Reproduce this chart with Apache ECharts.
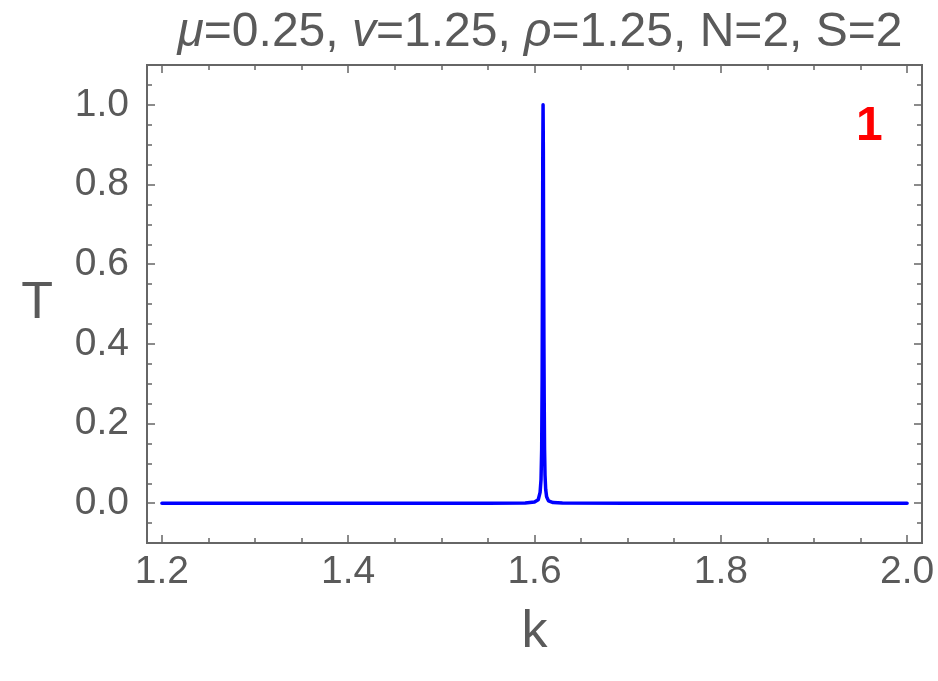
<!DOCTYPE html>
<html>
<head>
<meta charset="utf-8">
<script src="https://cdn.jsdelivr.net/npm/echarts@6/dist/echarts.min.js"></script>
<style>html,body{margin:0;padding:0;background:#fff}#c{width:938px;height:681px}</style>
</head>
<body>
<div id="c"></div>
<script>
// ---- data ----
var kValues = [1.2, 1.4, 1.55, 1.59, 1.6, 1.604, 1.606, 1.607, 1.6077, 1.6082, 1.6086, 1.6089, 1.6092,
               1.6095, 1.6098, 1.6101, 1.6104, 1.6108, 1.6113, 1.612, 1.613, 1.615, 1.62, 1.63, 1.7, 1.8, 2.0];
var tValues = [0.0, 0.0, 0.0001, 0.0007, 0.0029, 0.0086, 0.027, 0.059, 0.135, 0.31, 0.61, 0.88, 1.0,
               0.88, 0.61, 0.41, 0.265, 0.135, 0.07, 0.035, 0.016, 0.0058, 0.0015, 0.0004, 0.0, 0.0, 0.0];
var xMajorTicks = [1.2, 1.4, 1.6, 1.8, 2.0];
var xMinorTicks = [1.25, 1.3, 1.35, 1.45, 1.5, 1.55, 1.65, 1.7, 1.75, 1.85, 1.9, 1.95];
var yMajorTicks = [0.0, 0.2, 0.4, 0.6, 0.8, 1.0];
var yMinorTicks = [-0.05, 0.05, 0.1, 0.15, 0.25, 0.3, 0.35, 0.45, 0.5, 0.55, 0.65, 0.7, 0.75, 0.85, 0.9, 0.95, 1.05];
var xRange = [1.184, 2.016];
var yRange = [-0.1, 1.1];
var titleParts = [['mu', 'μ'], ['n', '=0.25, '], ['mu', 'v'], ['n', '=1.25, '], ['mu', 'ρ'], ['n', '=1.25, N=2, S=2']];
var panelLabel = '1';

var points = kValues.map(function (k, i) { return [k, tValues[i]]; });
var gray = '#666666';
var txt = '#5a5a5a';
var font = 'Liberation Sans, Arial, sans-serif';

function xAx(pos, ticks, len, labels, extra) {
  var a = {
    type: 'value', position: pos, min: xRange[0], max: xRange[1],
    axisLine: { show: true, onZero: false, lineStyle: { color: gray, width: 2 } },
    axisTick: { show: true, inside: true, length: len, customValues: ticks, lineStyle: { color: gray, width: 1.5 } },
    axisLabel: labels ? { show: true, customValues: ticks, color: txt, fontSize: 39, fontFamily: font, margin: 10,
      formatter: function (v) { return v.toFixed(1); } } : { show: false },
    splitLine: { show: false }
  };
  return Object.assign(a, extra || {});
}
function yAx(pos, ticks, len, labels, extra) {
  var a = {
    type: 'value', position: pos, min: yRange[0], max: yRange[1],
    axisLine: { show: true, onZero: false, lineStyle: { color: gray, width: 2 } },
    axisTick: { show: true, inside: true, length: len, customValues: ticks, lineStyle: { color: gray, width: 1.5 } },
    axisLabel: labels ? { show: true, customValues: ticks, color: txt, fontSize: 39, fontFamily: font, margin: 18,
      formatter: function (v) { return v.toFixed(1); } } : { show: false },
    splitLine: { show: false }
  };
  return Object.assign(a, extra || {});
}

var titleText = titleParts.map(function (p) { return '{' + p[0] + '|' + p[1] + '}'; }).join('');

var chart = echarts.init(document.getElementById('c'), null, { renderer: 'canvas' });
chart.setOption({
  animation: false,
  backgroundColor: '#ffffff',
  title: {
    text: titleText, left: 535, top: 4, textAlign: 'center',
    textStyle: {
      fontWeight: 'normal',
      rich: {
        n: { fontSize: 48, fontFamily: font, color: txt, fontWeight: 'normal' },
        mu: { fontSize: 48, fontFamily: font, color: txt, fontWeight: 'normal', fontStyle: 'italic' }
      }
    }
  },
  grid: { left: 147, top: 65, right: 16, bottom: 138, containLabel: false },
  xAxis: [
    xAx('bottom', xMajorTicks, 8, true, { name: 'k', nameLocation: 'middle', nameGap: 64,
      nameTextStyle: { fontSize: 52, fontFamily: font, color: txt } }),
    xAx('bottom', xMinorTicks, 5, false),
    xAx('top', xMajorTicks, 8, false),
    xAx('top', xMinorTicks, 5, false)
  ],
  yAxis: [
    yAx('left', yMajorTicks, 8, true, { name: 'T', nameLocation: 'middle', nameGap: 94, nameRotate: 0,
      nameTextStyle: { fontSize: 52, fontFamily: font, color: txt } }),
    yAx('left', yMinorTicks, 5, false),
    yAx('right', yMajorTicks, 8, false),
    yAx('right', yMinorTicks, 5, false)
  ],
  graphic: [{
    type: 'text', left: 856, top: 103,
    style: { text: panelLabel, fill: '#ff0000', font: 'bold 48px ' + font }
  }],
  series: [{
    type: 'line', xAxisIndex: 0, yAxisIndex: 0, data: points,
    showSymbol: false, symbol: 'none', smooth: false,
    lineStyle: { color: '#0000ff', width: 3.5, join: 'round', cap: 'round' },
    clip: true
  }]
});
</script>
</body>
</html>
